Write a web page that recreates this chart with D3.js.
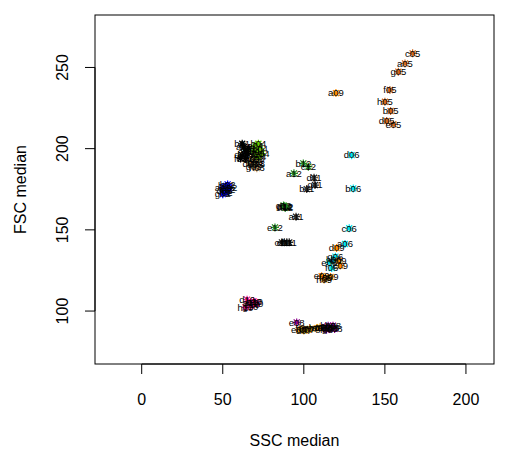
<!DOCTYPE html>
<html><head><meta charset="utf-8">
<script src="https://cdn.jsdelivr.net/npm/d3@7"></script>
<style>body{margin:0;background:#fff;} svg{display:block;font-family:"Liberation Sans",Arial,sans-serif;}</style>
</head><body>
<svg id="c" width="510" height="450"></svg>
<script>
// Wells (plate rows a-h, columns 01-12)
const wells = [
 "a01","b01","c01","d01","e01","f01","g01","h01",
 "a02","b02","c02","d02","e02","f02","g02","h02",
 "a03","b03","c03","d03","e03","f03","g03","h03",
 "a04","b04","c04","d04","e04","f04","g04","h04",
 "a05","b05","c05","d05","e05","f05","g05","h05",
 "a06","b06","c06","d06","e06","f06","g06","h06",
 "a07","b07","c07","d07","e07","f07","g07","h07",
 "a08","b08","c08","d08","e08","f08","g08","h08",
 "a09","b09","c09","d09","e09","f09","g09","h09",
 "a10","b10","c10","d10","e10","f10","g10","h10",
 "a11","b11","c11","d11","e11","f11","g11","h11",
 "a12","b12","c12","d12","e12","f12","g12","h12"
];
const sscMedian = [
 63,62,64,62,65,61,66,64,
 50,52,53,51,54,52,50,53,
 68,70,71,67,70,72,69,71,
 70,72,73,71,74,69,72,70,
 162.4,153.5,167.1,151.1,155.2,153.1,158.3,150.0,
 125.4,130.5,128,129.5,115.7,117.2,119.5,118.5,
 110,104,102,100,97,99,112,108,
 113,115,117,119,95.6,114,116,118,
 119.8,121.5,122.5,120.2,111,113.5,116.5,112.5,
 67,69,70,65,68,71,67,64,
 95.2,101.8,86.5,106.3,88,89.5,106.9,91,
 93.9,99.7,102.8,88,82.2,89.5,87.5,88.5
];
const fscMedian = [
 201,203,198,196,197,194,200,194,
 176,177,175,174,176,173,172,178,
 193,192,194,191,190,191,189,188,
 202,203,200,198,197,199,195,196,
 252.5,223.2,258.7,217.0,215.0,236.1,247.4,228.9,
 141.3,175.5,151,196,130,126.5,133.5,131.5,
 90,89,88.5,88,88.5,89,89.5,89.5,
 90,91,90,89,93,88.5,89,91,
 234.2,131,128,138.8,121.5,120.5,121,119.5,
 105,106,105.5,107,104,104.5,103,102.3,
 158.1,175.1,142.3,182.1,142.3,142.3,177.6,142.3,
 184.8,190.9,188.9,164.5,151.5,164,165,163.5
];
const columnColors = ["#000000","#0000FF","#C8A070","#66CD00","#D2691E","#00E5EE",
  "#E8A317","#8B008B","#FF8C00","#FF1493","#2a2a2a","#228B22"];
const xTicks = [0,50,100,150,200];
const yTicks = [100,150,200,250];

const data = wells.map((w,i)=>({w, x:sscMedian[i], y:fscMedian[i], col:+w.slice(1)-1}));

const svg = d3.select("#c");
const L=95, R=494, T=15, B=364;
const x = d3.scaleLinear().domain([-28.8,217.3]).range([L,R]);
const y = d3.scaleLinear().domain([67.4,282.3]).range([B,T]);

// points (pch 8 style asterisk)
const r = 4;
const g = svg.append("g");
data.forEach(d=>{
  const cx=x(d.x), cy=y(d.y);
  const p = `M${cx-r},${cy}L${cx+r},${cy}M${cx},${cy-r}L${cx},${cy+r}`+
    `M${cx-r*0.75},${cy-r*0.75}L${cx+r*0.75},${cy+r*0.75}M${cx-r*0.75},${cy+r*0.75}L${cx+r*0.75},${cy-r*0.75}`;
  g.append("path").attr("d",p).attr("stroke",columnColors[d.col]).attr("stroke-width",1.2).attr("fill","none");
});
// labels
svg.append("g").selectAll("text").data(data).join("text")
  .attr("x",d=>x(d.x)).attr("y",d=>y(d.y)).attr("dy","0.35em")
  .attr("text-anchor","middle").attr("font-size",9.5).attr("fill","#000")
  .text(d=>d.w);

// box
svg.append("rect").attr("x",L).attr("y",T).attr("width",R-L).attr("height",B-T)
  .attr("fill","none").attr("stroke","#000").attr("stroke-width",1);

// x axis
const xa = svg.append("g");
xa.append("line").attr("x1",x(0)).attr("x2",x(200)).attr("y1",B).attr("y2",B).attr("stroke","#000");
xa.selectAll("line.t").data(xTicks).join("line").attr("class","t")
  .attr("x1",d=>x(d)).attr("x2",d=>x(d)).attr("y1",B).attr("y2",B+10).attr("stroke","#000");
xa.selectAll("text").data(xTicks).join("text")
  .attr("x",d=>x(d)).attr("y",405).attr("text-anchor","middle").attr("font-size",16).text(d=>d);

// y axis
const ya = svg.append("g");
ya.append("line").attr("x1",L).attr("x2",L).attr("y1",y(100)).attr("y2",y(250)).attr("stroke","#000");
ya.selectAll("line.t").data(yTicks).join("line").attr("class","t")
  .attr("x1",L).attr("x2",L-10).attr("y1",d=>y(d)).attr("y2",d=>y(d)).attr("stroke","#000");
ya.selectAll("text").data(yTicks).join("text")
  .attr("transform",d=>`translate(68,${y(d)}) rotate(-90)`)
  .attr("text-anchor","middle").attr("font-size",16).text(d=>d);

svg.append("text").attr("x",(L+R)/2).attr("y",446).attr("text-anchor","middle").attr("font-size",16).text("SSC median");
svg.append("text").attr("transform",`translate(26,${(T+B)/2}) rotate(-90)`).attr("text-anchor","middle").attr("font-size",16).text("FSC median");
</script>
</body></html>
